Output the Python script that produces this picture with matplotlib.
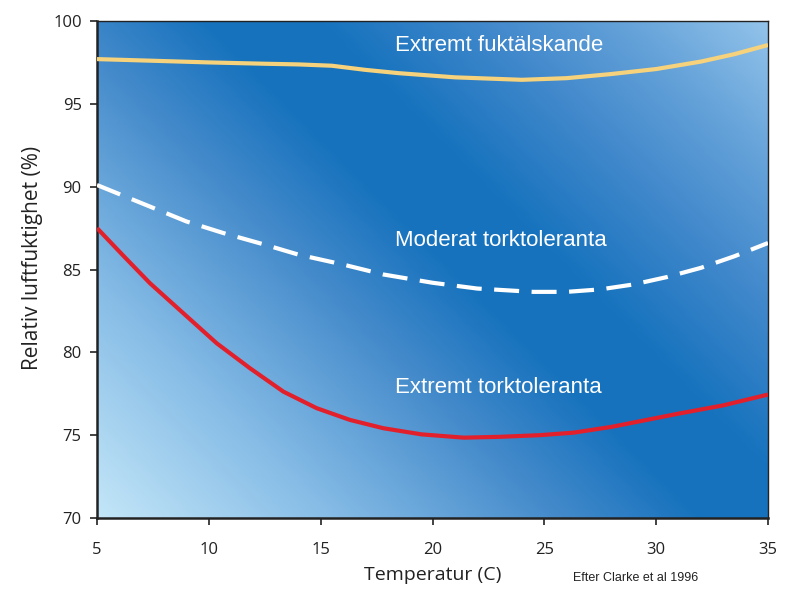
import matplotlib
matplotlib.use("Agg")
import matplotlib.pyplot as plt
import numpy as np
from matplotlib.colors import LinearSegmentedColormap

# Data
temp_yellow = [5, 7.5, 10, 12.5, 14, 15.5, 17, 18.5, 21, 24, 26, 28, 30, 32, 33.5, 35]
rh_yellow = [97.7, 97.6, 97.5, 97.42, 97.38, 97.3, 97.05, 96.85, 96.6, 96.45, 96.55, 96.8, 97.1, 97.55, 98.0, 98.55]

temp_white = [5, 7, 9, 10.65, 12.5, 14, 16, 17.8, 20, 22, 24.5, 26, 27.5, 29, 30.5, 32, 33.5, 35]
rh_white = [90.1, 89.0, 87.9, 87.2, 86.5, 85.9, 85.3, 84.7, 84.2, 83.85, 83.65, 83.65, 83.8, 84.1, 84.55, 85.1, 85.8, 86.6]

temp_red = [5, 6.2, 7.37, 8.86, 10.35, 11.84, 13.33, 14.82, 16.31, 17.8, 19.5, 21.4, 23, 24.8, 26.3, 28, 31, 33, 35]
rh_red = [87.5, 85.8, 84.17, 82.36, 80.55, 79.04, 77.63, 76.63, 75.92, 75.42, 75.05, 74.85, 74.9, 75.0, 75.15, 75.5, 76.3, 76.8, 77.45]

labels = ["Extremt fuktälskande", "Moderat torktoleranta", "Extremt torktoleranta"]
label_x = [18.32, 18.32, 18.32]
label_y = [98.5, 86.75, 77.85]

xticks = [5, 10, 15, 20, 25, 30, 35]
yticks = [70, 75, 80, 85, 90, 95, 100]

fig = plt.figure(figsize=(8, 6.05), dpi=100)
ax = fig.add_axes([97/800, 87/605, 671/800, 497/605])

# background gradient (diagonal)
W, H = 671, 497
xs = np.linspace(0, W, 300)
ys = np.linspace(0, H, 240)
X, Y = np.meshgrid(xs, ys)
S = (X + Y) / (W + H)
cmap = LinearSegmentedColormap.from_list("bg", [
    (0.0, "#c3e6f8"),
    (0.2, "#86bce6"),
    (0.4, "#4289ca"),
    (0.52, "#1672bd"),
    (0.62, "#1773be"),
    (0.75, "#3f87cb"),
    (0.87, "#62a0d8"),
    (1.0, "#92c3ea"),
])
ax.imshow(S, cmap=cmap, origin="lower", extent=[5, 35, 70, 100], aspect="auto",
          interpolation="bilinear", vmin=0, vmax=1, zorder=0)

ax.plot(temp_yellow, rh_yellow, color="#f6d27c", lw=3, solid_capstyle="butt", zorder=3)
ax.plot(temp_white, rh_white, color="white", lw=3, dashes=(6, 3), dash_capstyle="butt", zorder=3)
ax.plot(temp_red, rh_red, color="#e2202c", lw=3, solid_capstyle="butt", zorder=3)

for t, x, y in zip(labels, label_x, label_y):
    ax.text(x, y, t, color="white", fontsize=16, family="Liberation Sans",
            ha="left", va="center", zorder=4)

ax.set_xlim(5, 35)
ax.set_ylim(70, 100)
ax.set_xticks(xticks)
ax.set_yticks(yticks)
ax.tick_params(axis="both", direction="out", length=5, width=1.2, labelsize=12, colors="#222222")
for lab in ax.get_xticklabels() + ax.get_yticklabels():
    lab.set_family("Open Sans")
ax.tick_params(axis="x", pad=12)
ax.tick_params(axis="y", pad=6)
ax.spines["left"].set_linewidth(1.8)
ax.spines["bottom"].set_linewidth(1.8)
ax.spines["top"].set_linewidth(1.0)
ax.spines["right"].set_linewidth(1.0)
for sp in ax.spines.values():
    sp.set_color("#222222")

fig.text(433/800, 1 - 575/605, "Temperatur (C)", fontsize=14, family="Open Sans",
         ha="center", va="center", color="#222222")
fig.text(33/800, 1 - 258/605, "Relativ luftfuktighet (%)", fontsize=15, family="Open Sans",
         ha="center", va="center", rotation=90, color="#222222")
fig.text(636/800, 1 - 578/605, "Efter Clarke et al 1996", fontsize=9, family="Liberation Sans",
         ha="center", va="center", color="#222222")

fig.savefig("out.png", dpi=100)
